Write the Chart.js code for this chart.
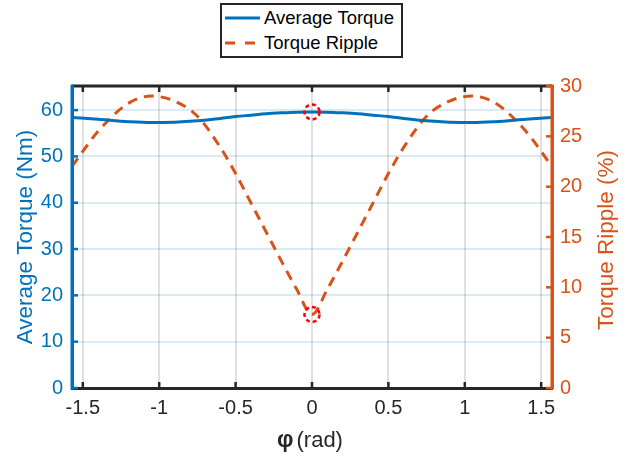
<!DOCTYPE html>
<html>
<head>
<meta charset="utf-8">
<script src="https://cdn.jsdelivr.net/npm/chart.js@4/dist/chart.umd.min.js"></script>
<style>
  html, body { margin: 0; padding: 0; background: #fff; }
  #wrap { position: relative; width: 640px; height: 459px; }
  #legend { position: absolute; left: 220px; top: 3px; width: 179px; height: 51px;
            border: 2px solid #262626; background: #fff;
            font-family: "Liberation Sans", Arial, sans-serif; font-size: 18.5px; color: #000; }
  .row { position: absolute; left: 0; height: 22px; display: flex; align-items: center; }
  .row svg { margin-left: 3px; margin-right: 4px; }
</style>
</head>
<body>
<div id="wrap">
  <canvas id="c" width="640" height="459"></canvas>
  <div id="legend">
    <div class="row" style="top:2px"><svg width="35" height="6"><line x1="0" y1="3" x2="35" y2="3" stroke="#0072BD" stroke-width="3"/></svg><span>Average Torque</span></div>
    <div class="row" style="top:27px"><svg width="35" height="6"><line x1="0" y1="3" x2="35" y2="3" stroke="#D95319" stroke-width="3" stroke-dasharray="10,10"/></svg><span>Torque Ripple</span></div>
  </div>
</div>
<script>
// ---- data ----
const phi = [-1.5708,-1.4,-1.2,-1.05,-0.9,-0.75,-0.6,-0.5,-0.4,-0.3,-0.2,-0.1,0,
              0.1,0.2,0.3,0.4,0.5,0.6,0.75,0.9,1.05,1.2,1.4,1.5708];
const avgTorque = [58.4,58.0,57.5,57.3,57.4,57.7,58.2,58.6,58.9,59.2,59.4,59.55,59.6,
                   59.55,59.4,59.2,58.9,58.6,58.2,57.7,57.4,57.3,57.5,58.0,58.4];
const torqueRipple = [22.0,25.5,28.3,29.0,28.5,27.0,23.9,21.3,18.4,15.5,12.6,9.8,7.3,
                      9.8,12.6,15.5,18.4,21.3,23.9,27.0,28.5,29.0,28.3,25.5,22.0];
const markerPhi = [0];
const markerAvg = [59.6];
const markerRipple = [7.3];
const xTicks = [-1.5,-1,-0.5,0,0.5,1,1.5];
const leftTicks = [0,10,20,30,40,50,60];
const rightTicks = [0,5,10,15,20,25,30];
const rightTitle = 'Torque Ripple (%)';
const xTitleSym = 'φ';
const xTitleUnit = '(rad)';

const BLUE = '#0072BD', ORANGE = '#D95319', DARK = '#262626';
const FONT = '"Liberation Sans", Arial, sans-serif';

const pts = (xs, ys) => xs.map((x, i) => ({x: x, y: ys[i]}));

const decor = {
  id: 'decor',
  afterDatasetsDraw(chart) {
    const ctx = chart.ctx;
    ctx.save();
    ctx.strokeStyle = '#FF0000';
    ctx.lineWidth = 2.5;
    ctx.setLineDash([4, 3]);
    [2, 3].forEach(di => {
      chart.getDatasetMeta(di).data.forEach(p => {
        ctx.beginPath();
        ctx.arc(p.x, p.y, 7.5, 0, Math.PI * 2);
        ctx.stroke();
      });
    });
    ctx.restore();
  },
  afterDraw(chart) {
    const ctx = chart.ctx;
    const {left, right, top, bottom} = chart.chartArea;
    const sx = chart.scales.x, sy = chart.scales.y, sy1 = chart.scales.y1;
    ctx.save();
    ctx.setLineDash([]);
    ctx.strokeStyle = DARK; ctx.lineWidth = 3;
    ctx.beginPath(); ctx.moveTo(left, top); ctx.lineTo(right, top); ctx.stroke();
    ctx.lineWidth = 2.5;
    xTicks.forEach(v => {
      const px = sx.getPixelForValue(v);
      ctx.beginPath(); ctx.moveTo(px, bottom); ctx.lineTo(px, bottom - 6); ctx.stroke();
      ctx.beginPath(); ctx.moveTo(px, top); ctx.lineTo(px, top + 6); ctx.stroke();
    });
    ctx.strokeStyle = BLUE;
    leftTicks.forEach(v => {
      const py = sy.getPixelForValue(v);
      ctx.beginPath(); ctx.moveTo(left, py); ctx.lineTo(left + 6, py); ctx.stroke();
    });
    ctx.strokeStyle = ORANGE;
    rightTicks.forEach(v => {
      const py = sy1.getPixelForValue(v);
      ctx.beginPath(); ctx.moveTo(right, py); ctx.lineTo(right - 6, py); ctx.stroke();
    });
    ctx.lineWidth = 3;
    ctx.strokeStyle = BLUE;
    ctx.beginPath(); ctx.moveTo(left, top - 1.5); ctx.lineTo(left, bottom + 1.5); ctx.stroke();
    ctx.strokeStyle = ORANGE;
    ctx.beginPath(); ctx.moveTo(right, top - 1.5); ctx.lineTo(right, bottom + 1.5); ctx.stroke();

    // right axis title, reading bottom-to-top
    ctx.save();
    ctx.translate(607, (top + bottom) / 2 + 3);
    ctx.rotate(-Math.PI / 2);
    ctx.fillStyle = ORANGE;
    ctx.font = '22.5px ' + FONT;
    ctx.textAlign = 'center';
    ctx.textBaseline = 'middle';
    ctx.fillText(rightTitle, 0, 0);
    ctx.restore();

    // x axis title
    const cx = (left + right) / 2;
    ctx.fillStyle = DARK;
    ctx.textBaseline = 'alphabetic';
    ctx.textAlign = 'left';
    ctx.font = 'bold 23px ' + FONT;
    const w1 = ctx.measureText(xTitleSym).width;
    ctx.font = '22px ' + FONT;
    const w2 = ctx.measureText(xTitleUnit).width;
    const gap = 3;
    const x0 = cx - (w1 + gap + w2) / 2 - 2;
    ctx.font = 'bold 23px ' + FONT;
    ctx.fillText(xTitleSym, x0, 447);
    ctx.font = '22px ' + FONT;
    ctx.fillText(xTitleUnit, x0 + w1 + gap, 447);
    ctx.restore();
  }
};

new Chart(document.getElementById('c'), {
  type: 'line',
  data: {
    datasets: [
      { label: 'Average Torque', data: pts(phi, avgTorque), yAxisID: 'y',
        borderColor: BLUE, borderWidth: 3, pointRadius: 0, fill: false,
        cubicInterpolationMode: 'monotone' },
      { label: 'Torque Ripple', data: pts(phi, torqueRipple), yAxisID: 'y1',
        borderColor: ORANGE, borderWidth: 3, borderDash: [10, 7], pointRadius: 0, fill: false,
        cubicInterpolationMode: 'monotone' },
      { label: 'mA', data: pts(markerPhi, markerAvg), yAxisID: 'y', showLine: false,
        pointRadius: 0, borderColor: 'rgba(0,0,0,0)' },
      { label: 'mR', data: pts(markerPhi, markerRipple), yAxisID: 'y1', showLine: false,
        pointRadius: 0, borderColor: 'rgba(0,0,0,0)' }
    ]
  },
  options: {
    responsive: false,
    animation: false,
    layout: { padding: { top: 86, left: 0, right: 0, bottom: 0 } },
    plugins: { legend: { display: false }, tooltip: { enabled: false } },
    scales: {
      x: {
        type: 'linear', min: -Math.PI / 2, max: Math.PI / 2,
        afterBuildTicks: s => { s.ticks = xTicks.map(v => ({value: v})); },
        afterFit: s => { s.height = 71; },
        grid: { color: 'rgba(38,38,38,0.14)', lineWidth: 2, drawTicks: false },
        border: { color: DARK, width: 3 },
        ticks: { color: DARK, font: { family: FONT, size: 20 }, padding: 8,
                 maxRotation: 0, autoSkip: false,
                 callback: v => String(v) },
        title: { display: false }
      },
      y: {
        type: 'linear', position: 'left', min: 0, max: 65.2,
        afterBuildTicks: s => { s.ticks = leftTicks.map(v => ({value: v})); },
        afterFit: s => { s.width = 72; },
        grid: { color: 'rgba(0,114,189,0.14)', lineWidth: 2, drawTicks: false },
        border: { color: BLUE, width: 3 },
        ticks: { color: BLUE, font: { family: FONT, size: 20 }, padding: 9 },
        title: { display: true, text: 'Average Torque (Nm)', color: BLUE,
                 font: { family: FONT, size: 22.5 }, padding: { top: 12, bottom: 0 } }
      },
      y1: {
        type: 'linear', position: 'right', min: 0, max: 30,
        afterBuildTicks: s => { s.ticks = rightTicks.map(v => ({value: v})); },
        afterFit: s => { s.width = 88; },
        grid: { display: false, drawTicks: false },
        border: { color: ORANGE, width: 3 },
        ticks: { color: ORANGE, font: { family: FONT, size: 20 }, padding: 8 },
        title: { display: false }
      }
    }
  },
  plugins: [decor]
});
</script>
</body>
</html>
